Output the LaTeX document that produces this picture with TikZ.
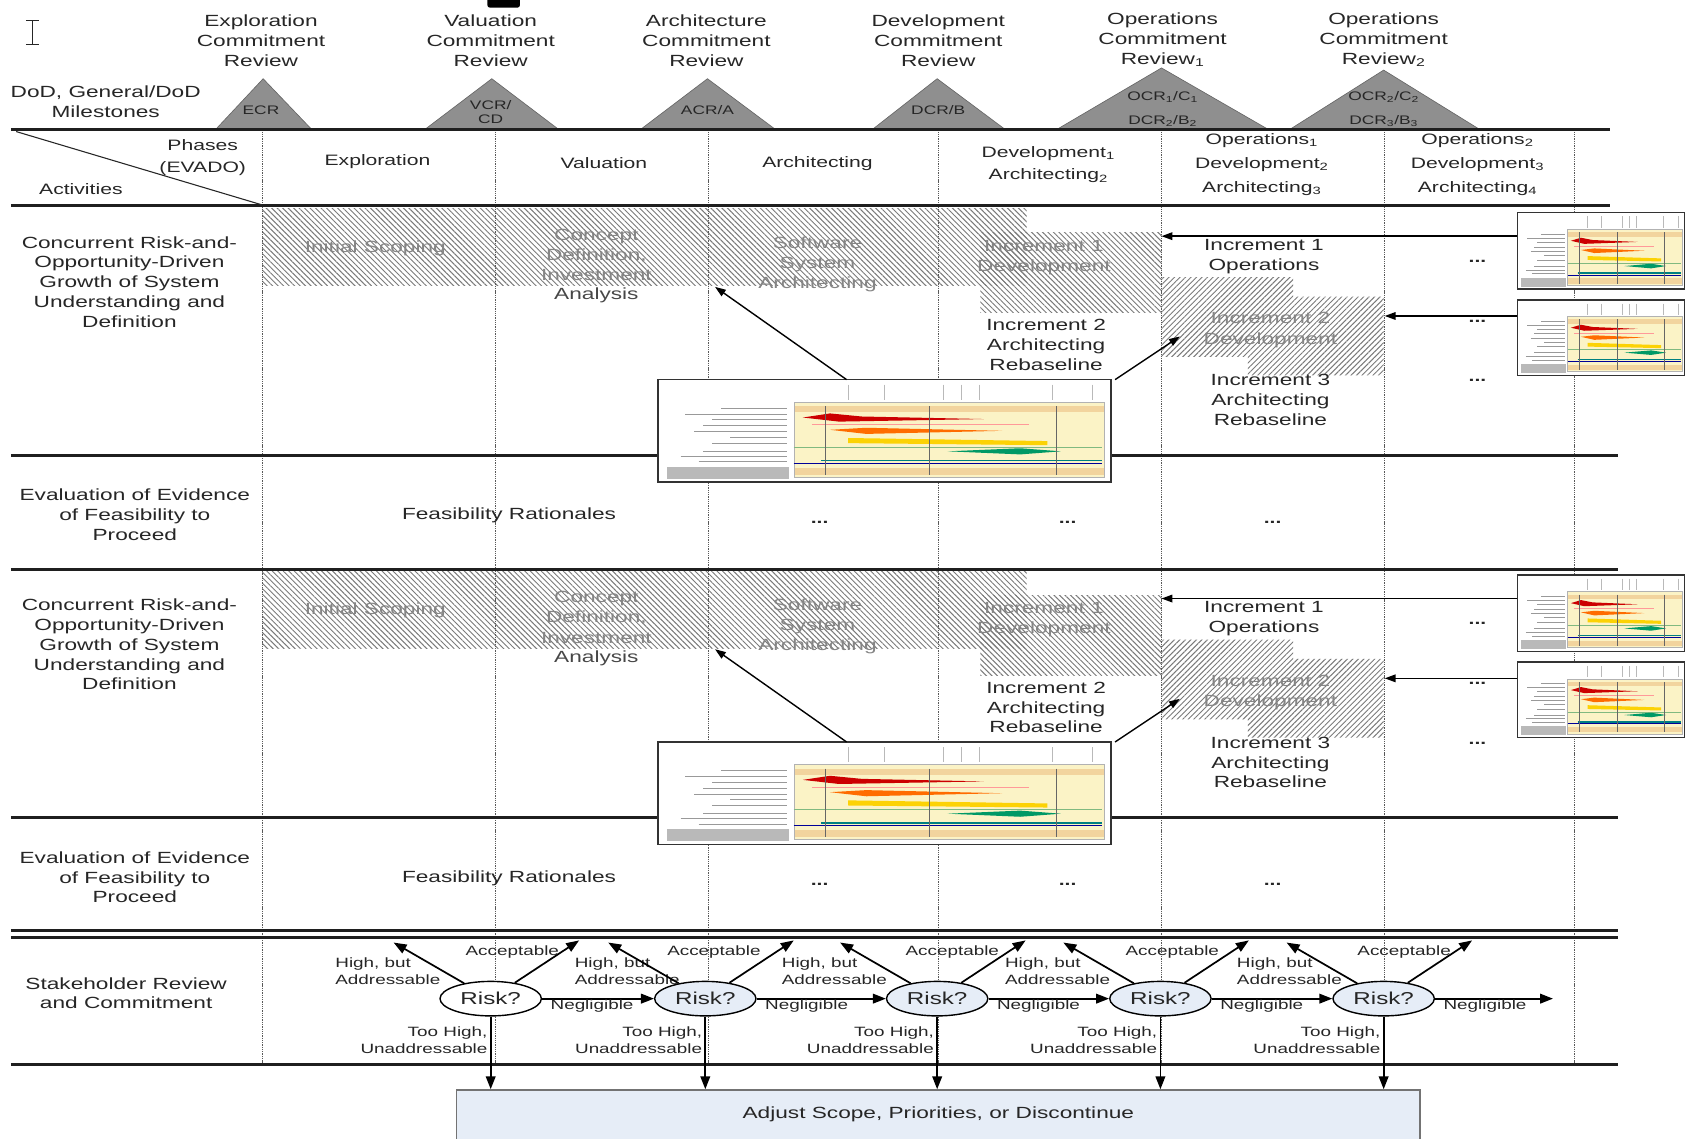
\documentclass[tikz,border=0pt]{standalone}
\usepackage{fontspec}
\setmainfont[FakeStretch=1.4]{Liberation Sans}
\usetikzlibrary{arrows.meta,patterns.meta,shapes.geometric}
\definecolor{txt}{HTML}{262626}
\definecolor{hatchtxt}{HTML}{858585}
\definecolor{trifill}{HTML}{8F8F8F}
\definecolor{lightblue}{HTML}{E6EDF7}
\definecolor{thyellow}{HTML}{FBF3C6}
\definecolor{thbeige}{HTML}{F2D49E}
\tikzset{
  T/.style={inner sep=0pt, outer sep=0pt, text=txt, align=center},
  hdr/.style={T, font=\fontsize{15}{18.5}\selectfont},
  lbl/.style={T, font=\fontsize{15}{18.4}\selectfont},
  ph/.style={T, font=\fontsize{14}{21}\selectfont},
  phb/.style={T, font=\fontsize{14}{22.5}\selectfont},
  hat/.style={T, text=hatchtxt, font=\fontsize{15}{18.7}\selectfont},
  inc/.style={T, font=\fontsize{15}{18.5}\selectfont},
  sm/.style={T, font=\fontsize{12.5}{15}\selectfont},
  trilbl/.style={T, text=black!85, font=\fontsize{11.5}{13}\selectfont},
  dots/.style={T, font=\bfseries\fontsize{14}{14}\selectfont},
  hline/.style={line width=2.8pt, black!88},
  vline/.style={line width=0.9pt, black!65, dash pattern=on 1.2pt off 0.9pt},
  tri/.style={fill=trifill, draw=black!60, line width=0.6pt},
  hatchA/.style={pattern={Lines[angle=-45,distance=3.6pt,line width=0.9pt]}, pattern color=black!52},
  hatchB/.style={pattern={Lines[angle=45,distance=3.6pt,line width=0.9pt]}, pattern color=black!52},
  thumbbox/.style={inner sep=0pt, outer sep=0pt, draw=none},
  thumbframe/.style={line width=1.4pt, black!80},
  arr/.style={line width=1.6pt, black, -{Triangle[length=12pt,width=9pt]}},
  tarr/.style={line width=1.3pt, black, -{Triangle[length=10pt,width=7pt]}},
  riskell/.style={ellipse, draw=black, line width=1.3pt, minimum width=94pt, minimum height=32pt, inner sep=0pt, fill=lightblue, text=txt, font=\fontsize{16}{16}\selectfont},
}
\newcommand\thumbinner{%
  \fill[white] (0,0) rectangle (1,1);
  \foreach \u in {0.42,0.50,0.63,0.67,0.71,0.87,0.96} \draw[gray!55, line width=0.5pt] (\u,0.05) -- (\u,0.2);
  \foreach \v/\s in {0.28/0.14,0.34/0.06,0.39/0.12,0.45/0.10,0.51/0.08,0.56/0.16,0.62/0.12,0.70/0.10,0.75/0.05,0.80/0.09}
    \draw[gray!80, line width=0.7pt] (\s,\v) -- (0.285,\v);
  \fill[gray!55] (0.02,0.85) rectangle (0.29,0.97);
  \fill[thyellow] (0.3,0.22) rectangle (0.985,0.95);
  \fill[thbeige] (0.3,0.26) rectangle (0.985,0.32);
  \fill[thbeige] (0.3,0.86) rectangle (0.985,0.93);
  \draw[gray!60, line width=0.4pt] (0.3,0.22) rectangle (0.985,0.95);
  \fill[red!80!black] (0.32,0.37) -- (0.38,0.33) -- (0.45,0.36) -- (0.72,0.385) -- (0.40,0.41) -- cycle;
  \draw[red!40, line width=0.6pt] (0.34,0.44) -- (0.82,0.44);
  \fill[orange!85!red] (0.38,0.49) -- (0.46,0.47) -- (0.76,0.50) -- (0.46,0.53) -- cycle;
  \fill[yellow!70!orange] (0.42,0.57) -- (0.86,0.60) -- (0.86,0.64) -- (0.42,0.62) -- cycle;
  \draw[green!45!black!50, line width=0.5pt] (0.3,0.66) -- (0.98,0.66);
  \fill[teal!80!green] (0.64,0.70) -- (0.80,0.67) -- (0.89,0.70) -- (0.80,0.73) -- cycle;
  \draw[teal, line width=1.4pt] (0.36,0.79) -- (0.98,0.79);
  \draw[blue!60!black, line width=0.6pt] (0.3,0.815) -- (0.98,0.815);
  \foreach \u in {0.37,0.60,0.88} \draw[black!60, line width=0.5pt] (\u,0.26) -- (\u,0.93);
}
\newcommand\mythumb[5]{%
  \node[thumbbox, minimum width=#4pt, minimum height=#5pt, anchor=north west] (#1) at (#2,#3) {};
  \begin{scope}[shift={(#2,#3)}, xscale=#4, yscale=#5]
    \thumbinner
  \end{scope}
  \draw[thumbframe] (#1.north west) rectangle (#1.south east);
}
\newcommand\rowhatch[1]{%
  \begin{scope}[shift={(0,#1)}]
    \fill[hatchA] (243,193) rectangle (952,265);
    \fill[hatchA] (909,216) rectangle (1077,290);
    \fill[hatchB] (1077,257) -- (1199,257) -- (1199,275) -- (1283,275) -- (1283,348) -- (1157,348) -- (1157,331) -- (1077,331) -- cycle;
  \end{scope}
}
\newcommand\rowtexts[2]{%
  \begin{scope}[shift={(0,#1)}]
    \node[lbl] (act#2) at (120,261.5) {Concurrent Risk-and-\\Opportunity-Driven\\Growth of System\\Understanding and\\Definition};
    \node[hat] (is#2) at (348,230) {Initial Scoping};
    \node[hat] (cd#2) at (553,236.5) {Concept\\Definition,\\Investment};
    \node[inc, text=black!72] (an#2) at (553,274) {Analysis};
    \node[hat] (ssa#2) at (758,245) {Software\\System\\Architecting};
    \node[hat] (ida#2) at (968,238.5) {Increment 1\\Development};
    \node[hat] (idb#2) at (1178,306) {Increment 2\\Development};
    \node[inc] (ioa#2) at (1172,238) {Increment 1\\Operations};
    \node[inc] (iaa#2) at (970,320) {Increment 2\\Architecting\\Rebaseline};
    \node[inc] (iab#2) at (1178,371) {Increment 3\\Architecting\\Rebaseline};
    \node[dots] (da#2) at (1370,242) {...};
    \node[dots] (db#2) at (1370,298) {...};
    \node[dots] (dc#2) at (1370,353) {...};
    \node[lbl] (ev#2) at (125,477.5) {Evaluation of Evidence\\of Feasibility to\\Proceed};
    \node[lbl] (fr#2) at (472,478) {Feasibility Rationales};
    \node[dots] (de#2) at (760,484) {...};
    \node[dots] (df#2) at (990,484) {...};
    \node[dots] (dg#2) at (1180,484) {...};
  \end{scope}
}
\newcommand\rowthumbs[2]{%
  \begin{scope}[shift={(0,#1)}]
    \mythumb{big#2}{610}{352}{420}{95}
    \mythumb{tha#2}{1407}{197}{155}{71}
    \mythumb{thb#2}{1407}{278}{155}{70}
    \coordinate (ssaT#2) at (663,266);
    \coordinate (idbT#2) at (1094,312);
    \coordinate (idaT#2) at (1077,219);
    \coordinate (idbR#2) at (1284,293);
    \draw[tarr] ([xshift=175pt]big#2.north west) -- (ssaT#2);
    \draw[tarr] ([xshift=4pt]big#2.north east) -- (idbT#2);
    \draw[tarr] (tha#2.west |- idaT#2) -- (idaT#2);
    \draw[tarr] (thb#2.west |- idbR#2) -- (idbR#2);
  \end{scope}
}
\begin{document}
\begin{tikzpicture}[x=1pt,y=-1pt]
\useasboundingbox (0,0) rectangle (1568,1056);
% artifacts
\draw[line width=1.2pt, txt] (24,19) -- (36,19) (30,19) -- (30,41) (24,41) -- (36,41);
\fill[black, rounded corners=2pt] (452,-4) rectangle (482,7);
% hatches
\rowhatch{0}
\rowhatch{336}
% milestones triangles
\filldraw[tri] (200,120) -- (244,73) -- (289,120) -- cycle;
\filldraw[tri] (394,120) -- (456,73) -- (518,120) -- cycle;
\filldraw[tri] (594,120) -- (656,73) -- (719,120) -- cycle;
\filldraw[tri] (809,120) -- (869,73) -- (932,120) -- cycle;
\filldraw[tri] (980,120) -- (1077,63) -- (1176,120) -- cycle;
\filldraw[tri] (1196,120) -- (1283,65) -- (1372,120) -- cycle;
% grid
\foreach \x in {243,459,657,870,1077,1284,1460} \draw[vline] (\x,120) -- (\x,987);
\draw[hline] (10,120) -- (1493,120);
\draw[hline] (10,191) -- (1493,191);
\draw[hline] (10,422) -- (1500,422);
\draw[hline] (10,528) -- (1500,528);
\draw[hline] (10,758) -- (1500,758);
\draw[hline] (10,863) -- (1500,863);
\draw[hline] (10,869) -- (1500,869);
\draw[hline] (10,987) -- (1500,987);
\draw[line width=1pt, black!85] (15,122) -- (243,190);
% header texts
\node[hdr] (rvE) at (242,38) {Exploration\\Commitment\\Review};
\node[hdr] (rvV) at (455,38) {Valuation\\Commitment\\Review};
\node[hdr] (rvA) at (655,38) {Architecture\\Commitment\\Review};
\node[hdr] (rvD) at (870,38) {Development\\Commitment\\Review};
\node[hdr] (rvO) at (1078,37) {Operations\\Commitment\\Review\textsubscript{1}};
\node[hdr] (rvP) at (1283,37) {Operations\\Commitment\\Review\textsubscript{2}};
\node[hdr] (mil) at (98,94.5) {DoD, General/DoD\\Milestones};
\node[trilbl] (tE) at (242,102) {ECR};
\node[trilbl] (tV) at (455,103.5) {VCR/\\CD};
\node[trilbl] (tA) at (656,102) {ACR/A};
\node[trilbl] (tD) at (870,102) {DCR/B};
\node[trilbl] (tO1) at (1078,90) {OCR\textsubscript{1}/C\textsubscript{1}};
\node[trilbl] (tO2) at (1078,112) {DCR\textsubscript{2}/B\textsubscript{2}};
\node[trilbl] (tP1) at (1283,90) {OCR\textsubscript{2}/C\textsubscript{2}};
\node[trilbl] (tP2) at (1283,112) {DCR\textsubscript{3}/B\textsubscript{3}};
\node[ph] (phs) at (188,146) {Phases\\(EVADO)};
\node[ph] (actv) at (75,175) {Activities};
\node[ph] (pE) at (350,150) {Exploration};
\node[ph] (pV) at (560,151) {Valuation};
\node[ph] (pA) at (758,152) {Architecting};
\node[ph] (pD) at (972,152.5) {Development\textsubscript{1}\\Architecting\textsubscript{2}};
\node[phb] (pO) at (1170,152.5) {Operations\textsubscript{1}\\Development\textsubscript{2}\\Architecting\textsubscript{3}};
\node[phb] (pP) at (1370,152.5) {Operations\textsubscript{2}\\Development\textsubscript{3}\\Architecting\textsubscript{4}};
% activity rows
\rowtexts{0}{a}
\rowtexts{336}{b}
\rowthumbs{0}{a}
\rowthumbs{336}{b}
% stakeholder row
\node[lbl] (stk) at (117,921) {Stakeholder Review\\and Commitment};
\node[draw=black!55, line width=1.2pt, fill=lightblue, minimum width=893pt, minimum height=46pt, anchor=north west, inner sep=0pt, text=txt, font=\fontsize{15}{15}\selectfont] (adj) at (423,1010) {Adjust Scope, Priorities, or Discontinue};
\node[riskell, fill=white] (r1) at (455,926) {Risk?};
\node[riskell] (r2) at (654,926) {Risk?};
\node[riskell] (r3) at (869,926) {Risk?};
\node[riskell] (r4) at (1076,926) {Risk?};
\node[riskell] (r5) at (1283,926) {Risk?};
\coordinate (nEnd) at (1440,926);
\draw[arr] (r1) -- (r2);
\draw[arr] (r2) -- (r3);
\draw[arr] (r3) -- (r4);
\draw[arr] (r4) -- (r5);
\draw[arr] (r5) -- (nEnd);
\foreach \i/\cx/\hl/\ad in {1/455/311/20, 2/654/533/8, 3/869/725/14, 4/1076/932/11, 5/1283/1147/19} {
  \node[sm, align=left, anchor=west] (hb\i) at (\hl,900.5) {High, but\\Addressable};
  \node[sm] (ac\i) at (\cx+\ad,883) {Acceptable};
  \node[sm] (ng\i) at (\cx+94,933) {Negligible};
  \node[sm, align=right, anchor=east] (th\i) at (\cx-3,964.5) {Too High,\\Unaddressable};
  \coordinate (hT\i) at (\cx-90,874);
  \coordinate (aT\i) at (\cx+82,872);
  \draw[arr] (r\i) -- (hT\i);
  \draw[arr] (r\i) -- (aT\i);
  \draw[arr] (r\i) -- (r\i |- adj.north);
}
\end{tikzpicture}
\end{document}
